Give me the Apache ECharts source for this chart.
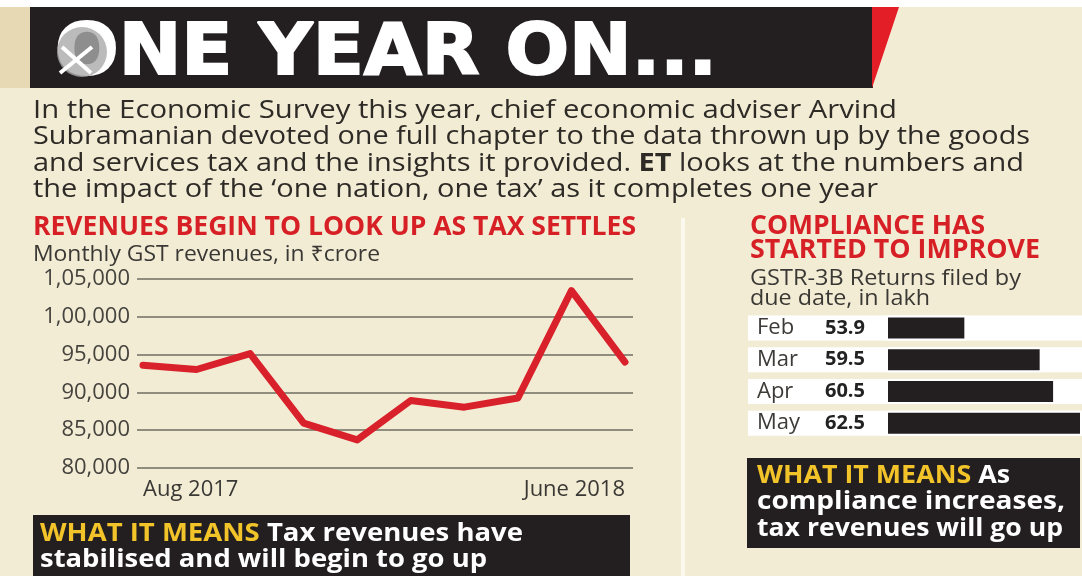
<!DOCTYPE html>
<html>
<head>
<meta charset="utf-8">
<script src="https://cdn.jsdelivr.net/npm/echarts@6/dist/echarts.min.js"></script>
<style>html,body{margin:0;padding:0;background:#f3ecd5;}#c{width:1082px;height:576px;}</style>
</head>
<body>
<div id="c"></div>
<script>
// ---- data ----
const revMonths = ['Aug 2017','Sep','Oct','Nov','Dec','Jan','Feb','Mar','Apr','June 2018'];
const revenues = [93590, 93029, 95132, 85931, 83716, 88929, 88047, 89264, 103458, 94016];
const yTicks = [80000, 85000, 90000, 95000, 100000, 105000];
const barMonths = ['Feb','Mar','Apr','May'];
const returnsFiled = [53.9, 59.5, 60.5, 62.5];

// ---- helpers ----
const FAM = "'Open Sans','Noto Sans',sans-serif";
const TITLE_FAM = "'DejaVu Sans','Liberation Sans',sans-serif";
const mctx = document.createElement('canvas').getContext('2d');
function measure(t, w, size, fam){ mctx.font = `${w} ${size}px ${fam}`; return mctx.measureText(t).width; }
function inr(v){
  const s = String(v); if (s.length <= 3) return s;
  const last3 = s.slice(-3); let rest = s.slice(0, -3);
  rest = rest.replace(/\B(?=(\d{2})+(?!\d))/g, ',');
  return rest + ',' + last3;
}
// parts: [[text, weight, color]]
function T(x, y, parts, size, target, fam, extra){
  fam = fam || FAM;
  let total = 0; const rich = {}; let str = '';
  parts.forEach((p, i) => {
    total += measure(p[0], p[1], size, fam);
    rich['p' + i] = Object.assign({ fill: p[2], fontWeight: p[1], fontSize: size, fontFamily: fam }, extra || {});
    str += `{p${i}|${p[0]}}`;
  });
  return { type: 'text', x: x, y: y, scaleX: target / total, z: 10,
    style: { text: str, rich: rich, fontSize: size, fontFamily: fam,
      align: 'left', verticalAlign: 'middle', textAlign: 'left', textVerticalAlign: 'middle' } };
}
const RED = '#d71f26', DARK = '#231f20', YEL = '#f2c42a', TXT = '#2e2b27';

const graphics = [
  { type: 'rect', shape: { x: 0, y: 0, width: 1082, height: 7 }, style: { fill: '#ffffff' } },
  { type: 'rect', shape: { x: 0, y: 7, width: 30, height: 81 }, style: { fill: '#e7d9b3' } },
  { type: 'rect', shape: { x: 30, y: 7, width: 843, height: 81 }, style: { fill: DARK } },
  { type: 'polygon', shape: { points: [[872, 7], [899, 7], [872, 88]] }, style: { fill: '#e31e26' } },
  T(55, 55, [['ONE YEAR ON...', 'bold', '#ffffff']], 72, 662, TITLE_FAM, { stroke: '#ffffff', lineWidth: 2 }),
  { type: 'circle', shape: { cx: 82, cy: 52, r: 25 }, style: { fill: 'rgba(170,170,170,0.8)' }, z: 11 },
  { type: 'line', shape: { x1: 62, y1: 47, x2: 91, y2: 73 }, style: { stroke: '#ffffff', lineWidth: 4 }, z: 12 },
  { type: 'line', shape: { x1: 60, y1: 73, x2: 92, y2: 47 }, style: { stroke: '#ffffff', lineWidth: 4 }, z: 12 },

  T(33, 111, [['In the Economic Survey this year, chief economic adviser Arvind', 'normal', TXT]], 25, 864),
  T(33, 137, [['Subramanian devoted one full chapter to the data thrown up by the goods', 'normal', TXT]], 25, 997),
  T(33, 164, [['and services tax and the insights it provided. ', 'normal', TXT], ['ET', 'bold', TXT], [' looks at the numbers and', 'normal', TXT]], 25, 991),
  T(33, 190, [['the impact of the \u2018one nation, one tax\u2019 as it completes one year', 'normal', TXT]], 25, 845),

  T(33, 228, [['REVENUES BEGIN TO LOOK UP AS TAX SETTLES', 'bold', RED]], 26, 603),
  T(33, 255, [['Monthly GST revenues, in \u20b9crore', 'normal', '#3a3834']], 21, 347),

  { type: 'rect', shape: { x: 681, y: 218, width: 4, height: 358 }, style: { fill: '#fbf8ee' } },

  T(750, 227, [['COMPLIANCE HAS', 'bold', RED]], 26, 235),
  T(750, 251, [['STARTED TO IMPROVE', 'bold', RED]], 26, 290),
  T(750, 279, [['GSTR-3B Returns filed by', 'normal', '#3a3834']], 21, 271),
  T(750, 299, [['due date, in lakh', 'normal', '#3a3834']], 21, 180),

  { type: 'rect', shape: { x: 747, y: 458, width: 333, height: 90 }, style: { fill: DARK } },
  T(757, 476, [['WHAT IT MEANS', 'bold', YEL], [' As', 'bold', '#ffffff']], 25, 253),
  T(757, 502, [['compliance increases,', 'bold', '#ffffff']], 25, 308),
  T(757, 529, [['tax revenues will go up', 'bold', '#ffffff']], 25, 306),

  { type: 'rect', shape: { x: 33, y: 515, width: 597, height: 61 }, style: { fill: DARK } },
  T(40, 534, [['WHAT IT MEANS', 'bold', YEL], [' Tax revenues have', 'bold', '#ffffff']], 25, 483),
  T(40, 560, [['stabilised and will begin to go up', 'bold', '#ffffff']], 25, 447)
];

const chart = echarts.init(document.getElementById('c'));
chart.setOption({
  backgroundColor: '#f3ecd5',
  animation: false,
  graphic: { elements: graphics },
  grid: [
    { left: 137, right: 449, top: 279, bottom: 108 },
    { left: 143, right: 457, top: 279, bottom: 108 },
    { left: 887, right: -6, top: 312, height: 127 }
  ],
  xAxis: [
    { gridIndex: 0, type: 'category', data: revMonths, boundaryGap: false, show: false },
    { gridIndex: 1, type: 'category', data: revMonths, boundaryGap: false,
      axisLine: { show: false }, axisTick: { show: false },
      axisLabel: { interval: (i) => i === 0 || i === revMonths.length - 1,
        alignMinLabel: 'left', alignMaxLabel: 'right', margin: 11,
        fontSize: 22, color: '#3a3834', fontFamily: FAM } },
    { gridIndex: 2, type: 'value', min: 48, max: 62.5, show: false }
  ],
  yAxis: [
    { gridIndex: 0, type: 'value', min: yTicks[0], max: yTicks[yTicks.length - 1], interval: yTicks[1] - yTicks[0],
      axisLine: { show: false }, axisTick: { show: false },
      splitLine: { lineStyle: { color: '#6f6c60', width: 1.5 } },
      axisLabel: { formatter: inr, margin: 7, fontSize: 22, color: '#45433d', fontFamily: FAM } },
    { gridIndex: 1, type: 'value', min: yTicks[0], max: yTicks[yTicks.length - 1], show: false },
    { gridIndex: 2, type: 'category', data: barMonths, inverse: true,
      axisLine: { show: false }, axisTick: { show: false },
      axisLabel: { align: 'left', margin: 139, backgroundColor: '#ffffff',
        width: 130, height: 25, lineHeight: 25, padding: [0, 0, 0, 9],
        formatter: (v, i) => `{m|${v}}{v|${returnsFiled[i]}}`,
        rich: { m: { width: 68, fontSize: 22, color: '#3d3b37', fontFamily: FAM },
                v: { fontSize: 20, fontWeight: 'bold', color: '#222222', fontFamily: FAM } } } }
  ],
  series: [
    { type: 'line', xAxisIndex: 1, yAxisIndex: 1, data: revenues, symbol: 'none',
      lineStyle: { color: '#d9212b', width: 7, cap: 'round', join: 'round' } },
    { type: 'bar', xAxisIndex: 2, yAxisIndex: 2, data: returnsFiled, barWidth: 25,
      showBackground: true, backgroundStyle: { color: '#ffffff' },
      itemStyle: { color: DARK, borderColor: '#ffffff', borderWidth: 2 } }
  ]
});
</script>
</body>
</html>
